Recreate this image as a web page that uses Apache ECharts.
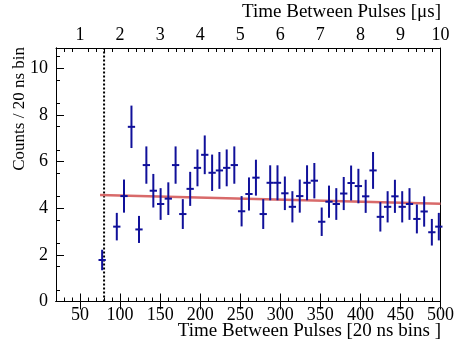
<!DOCTYPE html>
<html>
<head>
<meta charset="utf-8">
<script src="https://cdn.jsdelivr.net/npm/echarts@6/dist/echarts.min.js"></script>
<style>
  html, body { margin: 0; background: #fff; }
  #chart { width: 457px; height: 347px; }
</style>
</head>
<body>
<div id="chart"></div>
<script>
// bin centres (20 ns bins), counts per bin and their errors
const binX = [77.6, 95.9, 104.9, 114.2, 123.6, 132.8, 141.5, 150.6, 160.2, 169.3,
  178.3, 187.5, 196.6, 205.7, 214.9, 224.0, 233.1, 242.6, 251.7, 260.9,
  269.6, 278.7, 287.4, 296.5, 305.7, 315.1, 324.3, 333.4, 342.5, 351.7,
  360.8, 369.9, 379.2, 388.4, 397.5, 406.6, 415.8, 424.9, 434.0, 443.1,
  452.2, 461.3, 470.5, 479.6, 489.2, 497.9]
const counts = [1.78, 3.21, 4.52, 7.49, 3.09, 5.85, 4.75, 4.18, 4.41, 5.85,
  3.75, 4.83, 5.73, 6.29, 5.52, 5.62, 5.73, 5.85, 3.87, 4.61,
  5.31, 3.75, 5.09, 5.09, 4.64, 4.06, 4.52, 5.09, 5.18, 3.42,
  4.28, 4.18, 4.63, 5.08, 4.95, 4.51, 5.62, 3.63, 4.06, 4.51,
  4.06, 4.18, 3.54, 3.86, 2.97, 3.21]
const errors = [0.44, 0.59, 0.71, 0.91, 0.58, 0.80, 0.72, 0.68, 0.70, 0.80,
  0.64, 0.73, 0.79, 0.83, 0.78, 0.79, 0.79, 0.80, 0.65, 0.71,
  0.77, 0.64, 0.75, 0.75, 0.72, 0.67, 0.71, 0.75, 0.76, 0.61,
  0.69, 0.68, 0.71, 0.75, 0.74, 0.71, 0.79, 0.63, 0.67, 0.71,
  0.67, 0.68, 0.62, 0.65, 0.57, 0.59]
const binHalfWidth = 4.55

// flat fit and cut position
const fitX = [75, 500]
const fitY = [4.57, 4.19]
const cutX = 80

// tick labels
const binTicks = [50, 100, 150, 200, 250, 300, 350, 400, 450, 500]
const usTicks = [1, 2, 3, 4, 5, 6, 7, 8, 9, 10]
const countTicks = [0, 2, 4, 6, 8, 10]

const xMin = 20, xMax = 500, yMax = 10.87
const font = "Liberation Serif"
const blue = "#10109a"

const binMinor = [], usMinor = [], countMinor = []
for (let v = 30; v < 500; v += 10) if (v % 50) binMinor.push(v)
for (let v = 6; v < 100; v += 2) if (v % 10) usMinor.push(v / 10)
for (let v = 1; v < 22; v += 2) countMinor.push(v / 2)

const baseAxis = {
  type: "value",
  axisLine: { show: true, lineStyle: { color: "#000", width: 1 } },
  splitLine: { show: false },
  axisLabel: { show: false },
  axisTick: { show: false },
}
const label = (vals, margin) => ({
  show: true, customValues: vals, margin, color: "#000",
  fontFamily: font, fontSize: 18,
})
const ticks = (vals, len) => ({
  show: true, inside: true, customValues: vals, length: len,
  lineStyle: { color: "#000", width: 1 },
})

const errData = binX.map((x, i) => [x, counts[i], errors[i]])

const option = {
  animation: false,
  grid: { left: 56, right: 15, top: 48, bottom: 45.5 },
  xAxis: [
    { ...baseAxis, min: xMin, max: xMax, position: "bottom",
      axisLabel: label(binTicks, 5), axisTick: ticks(binTicks, 8) },
    { ...baseAxis, min: xMin, max: xMax, position: "bottom",
      axisTick: ticks(binMinor, 4) },
    { ...baseAxis, min: xMin / 50, max: xMax / 50, position: "top",
      axisLabel: label(usTicks, 4), axisTick: ticks(usTicks, 8) },
    { ...baseAxis, min: xMin / 50, max: xMax / 50, position: "top",
      axisTick: ticks(usMinor, 4) },
  ],
  yAxis: [
    { ...baseAxis, min: 0, max: yMax, position: "left",
      axisLabel: label(countTicks, 8), axisTick: ticks(countTicks, 8) },
    { ...baseAxis, min: 0, max: yMax, position: "left",
      axisTick: ticks(countMinor, 4) },
    { ...baseAxis, min: 0, max: yMax, position: "right" },
  ],
  graphic: [
    { type: "text", x: 441, y: 12,
      style: { text: "Time Between Pulses [μs]", font: `19px "${font}"`,
        fill: "#000", align: "right", verticalAlign: "middle" } },
    { type: "text", x: 441, y: 331,
      style: { text: "Time Between Pulses [20 ns bins ]", font: `19px "${font}"`,
        fill: "#000", align: "right", verticalAlign: "middle" } },
    { type: "text", x: 20, y: 47, rotation: Math.PI / 2,
      style: { text: "Counts / 20 ns bin", font: `17px "${font}"`,
        fill: "#000", align: "right", verticalAlign: "middle" } },
  ],
  series: [
    {
      type: "line",
      data: [[cutX, 0], [cutX, yMax]],
      symbol: "none",
      lineStyle: { color: "#000", width: 2, type: [2, 2] },
      z: 1,
    },
    {
      type: "line",
      data: fitX.map((x, i) => [x, fitY[i]]),
      symbol: "none",
      lineStyle: { color: "#d86a6a", width: 2.5 },
      z: 2,
    },
    {
      type: "custom",
      data: errData,
      encode: { x: 0, y: 1 },
      z: 3,
      renderItem: (params, api) => {
        const x = api.value(0), y = api.value(1), e = api.value(2)
        const top = api.coord([x, y + e])
        const bot = api.coord([x, y - e])
        const l = api.coord([x - binHalfWidth, y])
        const r = api.coord([x + binHalfWidth, y])
        const style = { stroke: blue, lineWidth: 2 }
        return {
          type: "group",
          children: [
            { type: "line", shape: { x1: top[0], y1: top[1], x2: bot[0], y2: bot[1] }, style },
            { type: "line", shape: { x1: l[0], y1: l[1], x2: r[0], y2: r[1] }, style },
          ],
        }
      },
    },
  ],
}

const chart = echarts.init(document.getElementById("chart"))
chart.setOption(option)
</script>
</body>
</html>
